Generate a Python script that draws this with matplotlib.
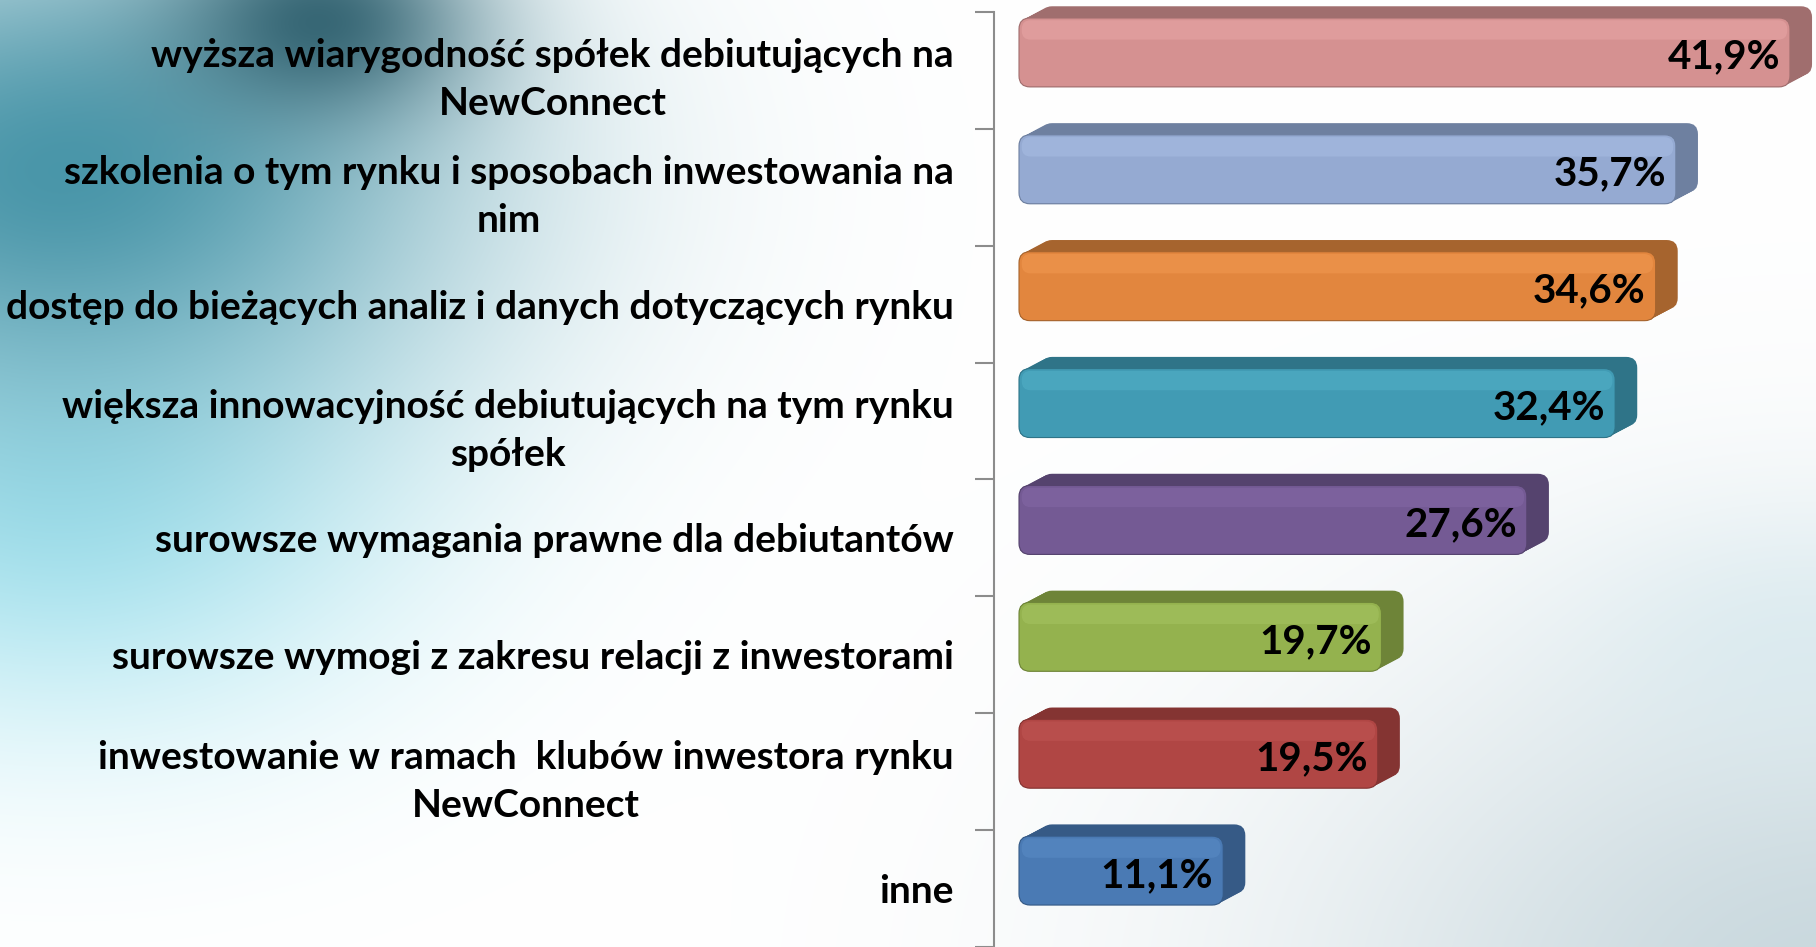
import matplotlib.pyplot as plt
import numpy as np
from matplotlib.patches import FancyBboxPatch

categories = [
    'wyższa wiarygodność spółek debiutujących na\nNewConnect',
    'szkolenia o tym rynku i sposobach inwestowania na\nnim',
    'dostęp do bieżących analiz i danych dotyczących rynku',
    'większa innowacyjność debiutujących na tym rynku\nspółek',
    'surowsze wymagania prawne dla debiutantów',
    'surowsze wymogi z zakresu relacji z inwestorami',
    'inwestowanie w ramach  klubów inwestora rynku\nNewConnect',
    'inne',
]
values = [41.9, 35.7, 34.6, 32.4, 27.6, 19.7, 19.5, 11.1]
value_labels = ['41,9%', '35,7%', '34,6%', '32,4%', '27,6%', '19,7%', '19,5%', '11,1%']
face_colors = ['#D59191', '#95AAD2', '#E2863E', '#419BB4', '#745A94', '#94B24E', '#B04644', '#4A7AB4']
dark_colors = ['#A06E6E', '#6E80A0', '#A6642E', '#2F7488', '#55436E', '#6E8438', '#843432', '#365A86']
light_colors = ['#E8A6A6', '#A8BEE4', '#F29A52', '#52B0C8', '#8468A6', '#A6C462', '#C05654', '#5A8CC6']

plt.rcParams['font.family'] = ['Lato', 'DejaVu Sans']

W, H = 1816, 947
fig = plt.figure(figsize=(W / 100, H / 100), dpi=100)

# background: teal haze top-left, grey-blue haze bottom-right
yy, xx = np.mgrid[0:H, 0:W].astype(float)
bg = np.ones((H, W, 3))


def blend(img, col, a):
    a = np.clip(a, 0, 1)[..., None]
    return img * (1 - a) + np.array(col) / 255.0 * a


bg = blend(bg, (165, 228, 240), 0.95 * np.exp(-((xx - 60) / 330) ** 2 - ((yy - 500) / 230) ** 2))
bg = blend(bg, (65, 145, 165), 0.95 * np.exp(-((xx - 60) / 400) ** 2 - ((yy - 170) / 250) ** 2))
bg = blend(bg, (35, 85, 100), 0.85 * np.exp(-((xx - 320) / 150) ** 2 - ((yy - 20) / 100) ** 2))
bg = blend(bg, (198, 214, 220), 0.95 * np.exp(-((xx - 1850) / 560) ** 2 - ((yy - 1000) / 380) ** 2))
bg = blend(bg, (212, 232, 238), 0.6 * np.exp(-((xx - 1800) / 220) ** 2 - ((yy - 640) / 130) ** 2))

bg_ax = fig.add_axes([0, 0, 1, 1], zorder=0)
bg_ax.imshow(bg, aspect='auto', interpolation='bilinear')
bg_ax.axis('off')

ax_left = 994 / W
ax_top = 1 - 12 / H
ax = fig.add_axes([ax_left, 0, 1 - ax_left, ax_top], zorder=1)
ax.patch.set_alpha(0)

px_per_unit = 18.4
ax.set_xlim(-25 / px_per_unit, (W - 1019) / px_per_unit)
ax.set_ylim(7.5, -0.5)

pos = np.arange(len(categories))
bar_h = 0.59
shift = -0.154
bars = ax.barh(pos + shift, values, height=bar_h, color='none', edgecolor='none')

dx, dy = 1.2, 0.1
aspect = px_per_unit / 117.0
r = 0.6
for i, rect in enumerate(bars):
    x0, y0 = rect.get_x(), rect.get_y()
    w, h = rect.get_width(), rect.get_height()
    # extruded depth (top and right faces)
    for t in np.linspace(0, 1, 12):
        ax.add_patch(FancyBboxPatch((x0 + t * dx, y0 - t * dy), w, h,
                                    boxstyle=f'round,pad=0,rounding_size={r}',
                                    mutation_aspect=aspect, fc=dark_colors[i], ec='none',
                                    zorder=2, clip_on=False))
    # front face
    ax.add_patch(FancyBboxPatch((x0, y0), w, h,
                                boxstyle=f'round,pad=0,rounding_size={r}',
                                mutation_aspect=aspect, fc=face_colors[i],
                                ec=dark_colors[i], lw=0.8, zorder=3, clip_on=False))
    # soft highlight on upper part of the front face
    ax.add_patch(FancyBboxPatch((x0 + 0.15, y0 + 0.02), w - 0.3, h * 0.28,
                                boxstyle=f'round,pad=0,rounding_size={r * 0.8}',
                                mutation_aspect=aspect, fc=light_colors[i],
                                ec='none', alpha=0.55, zorder=3.5, clip_on=False))
    ax.text(values[i] - 0.55, pos[i] + shift + 0.04, value_labels[i],
            ha='right', va='center', fontsize=29, fontweight='bold',
            color='black', zorder=5)

# axis and category labels
for s in ['top', 'right', 'bottom']:
    ax.spines[s].set_visible(False)
ax.spines['left'].set_color('#8C8C8C')
ax.spines['left'].set_linewidth(1.5)
ax.set_xticks([])
ax.set_yticks(np.arange(-0.5, len(categories), 1.0))
ax.set_yticklabels([])
ax.tick_params(axis='y', which='major', length=14, width=1.5, color='#8C8C8C')
ax.set_yticks(pos, minor=True)
ax.set_yticklabels(categories, minor=True, fontsize=28, fontweight='bold', linespacing=1.45)
ax.tick_params(axis='y', which='minor', length=0, pad=29)
for lbl in ax.get_yticklabels(minor=True):
    lbl.set_multialignment('center')

fig.savefig('out.png', dpi=100)
